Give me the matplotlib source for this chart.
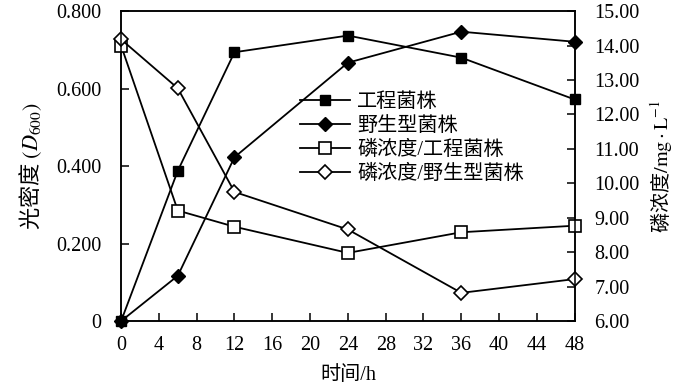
import matplotlib
matplotlib.use("Agg")
from matplotlib import pyplot as plt
import numpy as np

plt.rcParams['font.family'] = ['Liberation Serif', 'Noto Sans CJK SC']
plt.rcParams['mathtext.fontset'] = 'stix'
plt.rcParams['font.size'] = 14.5

hours = [0, 6, 12, 24, 36, 48]
od_eng = [0.0, 0.388, 0.694, 0.737, 0.680, 0.572]
od_wild = [0.0, 0.117, 0.423, 0.667, 0.747, 0.721]
p_eng = [14.0, 9.21, 8.74, 7.98, 8.58, 8.77]
p_wild = [14.18, 12.76, 9.75, 8.66, 6.82, 7.22]

labels = ["工程菌株", "野生型菌株", "磷浓度/工程菌株", "磷浓度/野生型菌株"]
xticks = np.arange(0, 49, 4)
left_ticks = [0, 0.2, 0.4, 0.6, 0.8]
left_ticklabels = ["0", "0.200", "0.400", "0.600", "0.800"]
right_ticks = np.arange(6, 16, 1)

lw = 1.3
ms = 8.5

fig = plt.figure(figsize=(7, 3.85), dpi=100)
ax = fig.add_axes([0.173, 0.166, 0.648, 0.805])
ax2 = ax.twinx()

l1, = ax.plot(hours, od_eng, color='k', linewidth=lw, marker='s', markersize=ms - 1, markerfacecolor='k', clip_on=False)
l2, = ax.plot(hours, od_wild, color='k', linewidth=lw, marker='D', markersize=ms - 1.5, markerfacecolor='k', clip_on=False)
l3, = ax2.plot(hours, p_eng, color='k', linewidth=lw, marker='s', markersize=ms, markerfacecolor='white', markeredgewidth=1.2, clip_on=False)
l4, = ax2.plot(hours, p_wild, color='k', linewidth=lw, marker='D', markersize=ms - 1, markerfacecolor='white', markeredgewidth=1.2, clip_on=False)

ax.set_xlim(0, 48)
ax.set_ylim(0, 0.8)
ax2.set_ylim(6, 15)
ax.set_xticks(xticks)
ax.set_yticks(left_ticks)
ax.set_yticklabels(left_ticklabels)
ax2.set_yticks(right_ticks)
ax2.set_yticklabels(["%.2f" % v for v in right_ticks])

for a in (ax, ax2):
    a.tick_params(direction='in', length=6, width=1.1, pad=14)
    for s in a.spines.values():
        s.set_linewidth(1.1)
ax.tick_params(axis='x', pad=11)

ax.set_xlabel("时间/h", labelpad=8)
ax.set_ylabel(r"光密度 $(D_{600})$", family='Noto Sans CJK SC', fontsize=16, labelpad=9)
ax2.set_ylabel(r"磷浓度$/\mathrm{mg}\cdot\mathrm{L}^{-1}$", family='Noto Sans CJK SC', labelpad=6)

ax2.legend([l1, l2, l3, l4], labels, loc='upper left', bbox_to_anchor=(0.394, 0.737),
           frameon=False, borderpad=0, borderaxespad=0, handlelength=2.5,
           handletextpad=0.35, labelspacing=0.25)

fig.savefig("out.png", dpi=100)
